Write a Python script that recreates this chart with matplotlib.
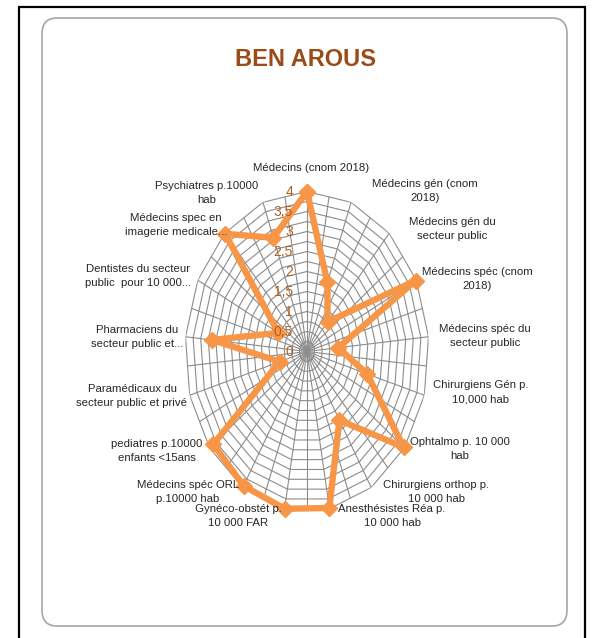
import numpy as np
import matplotlib
matplotlib.use("Agg")
import matplotlib.pyplot as plt
from matplotlib.patches import FancyBboxPatch, Rectangle

categories = [
    "Médecins (cnom 2018)",
    "Médecins gén (cnom\n2018)",
    "Médecins gén du\nsecteur public",
    "Médecins spéc (cnom\n2018)",
    "Médecins spéc du\nsecteur public",
    "Chirurgiens Gén p.\n10,000 hab",
    "Ophtalmo p. 10 000\nhab",
    "Chirurgiens orthop p.\n10 000 hab",
    "Anesthésistes Réa p.\n10 000 hab",
    "Gynéco-obstét p.\n10 000 FAR",
    "Médecins spéc ORL\np.10000 hab",
    "pediatres p.10000\nenfants <15ans",
    "Paramédicaux du\nsecteur public et privé",
    "Pharmaciens du\nsecteur public et...",
    "Dentistes du secteur\npublic  pour 10 000...",
    "Médecins spec en\nimagerie medicale...",
    "Psychiatres p.10000\nhab",
]
values = [4.0, 1.85, 1.0, 3.98, 1.03, 2.05, 3.97, 2.02, 3.98, 4.0, 3.95, 3.85, 0.93, 3.12, 1.05, 3.98, 3.05]
tick_values = [0, 0.5, 1, 1.5, 2, 2.5, 3, 3.5, 4]
tick_labels = ["0", "0,5", "1", "1,5", "2", "2,5", "3", "3,5", "4"]
title = "BEN AROUS"

FONT = ["Liberation Sans Narrow", "Liberation Sans", "DejaVu Sans"]
plt.rcParams["font.family"] = FONT

W, H = 594, 638
fig = plt.figure(figsize=(W / 100, H / 100), dpi=100)
fig.patch.set_facecolor("white")

def fx(x):
    return x / W

def fy(y):
    return 1 - y / H

# outer black frame
fig.add_artist(Rectangle((fx(19), fy(650)), fx(585) - fx(19), fy(7) - fy(650),
                         transform=fig.transFigure, fill=False, ec="black", lw=1.6, zorder=-2))
# inner rounded chart box
fig.add_artist(FancyBboxPatch((fx(42), fy(626)), fx(567) - fx(42), fy(18) - fy(626),
                              boxstyle="round,pad=0,rounding_size=0.025",
                              transform=fig.transFigure, fc="white", ec="#a6a6a6", lw=1.2,
                              zorder=-1))

# radar axes (the source picture is horizontally squeezed): center (307, 351.5)
cx, cy, RX, RY = 307, 351.5, 122, 160
ax = fig.add_axes([fx(cx - RX), fy(cy + RY), 2 * RX / W, 2 * RY / H], projection="polar")
ax.set_aspect("auto")
ax.set_zorder(2)
ax.set_theta_offset(np.pi / 2)
ax.set_theta_direction(-1)
ax.set_ylim(0, 4)
ax.set_facecolor("none")
ax.patch.set_alpha(0)
ax.grid(False)
ax.set_xticks([])
ax.set_yticks([])
ax.spines["polar"].set_visible(False)

n = len(categories)
angles = np.arange(n) * 2 * np.pi / n

# web gridlines
ring_levels = np.arange(0.25, 4.01, 0.25)
poly_ang = np.append(angles, angles[0])
for r in ring_levels:
    ax.plot(poly_ang, np.full(len(poly_ang), r), color="#8c8c8c", lw=0.8, zorder=1)
spoke_angles = np.arange(2 * n) * np.pi / n
for i, a in enumerate(spoke_angles):
    rmax = 4.0 * np.cos(np.pi / n) if i % 2 else 4.0
    ax.plot([a, a], [0, rmax], color="#8c8c8c", lw=0.8, zorder=1)

# data line
vals = np.append(values, values[0])
ax.plot(poly_ang, vals, color="#F79646", lw=4.6, marker="D", markersize=8.5,
        markerfacecolor="#F79646", markeredgecolor="#F79646", zorder=3, clip_on=False,
        solid_joinstyle="round")

# value axis labels
for v, t in zip(tick_values, tick_labels):
    ax.annotate(t, xy=(0, v), xytext=(-10, 0), textcoords="offset points",
                ha="right", va="center", fontsize=10, color="#b35f1c", zorder=4,
                annotation_clip=False)

# category labels (layout positions in pixels)
label_pos = [
    (311, 168), (425, 191), (452, 229), (477, 279), (485, 336), (481, 392),
    (460, 449), (436, 492), (392, 516), (238, 516), (188, 492), (157, 451),
    (132, 396), (137, 337), (138, 276), (176, 225), (207, 193),
]
for lab, (x, y) in zip(categories, label_pos):
    fig.text(fx(x), fy(y), lab, ha="center", va="center", multialignment="center",
             fontsize=8.2, color="#262626", linespacing=1.6, zorder=5)

fig.text(fx(305), fy(60), title, ha="center", va="center", fontsize=17,
         fontweight="bold", color="#9c4a17")

fig.savefig("out.png", dpi=100, facecolor="white")
